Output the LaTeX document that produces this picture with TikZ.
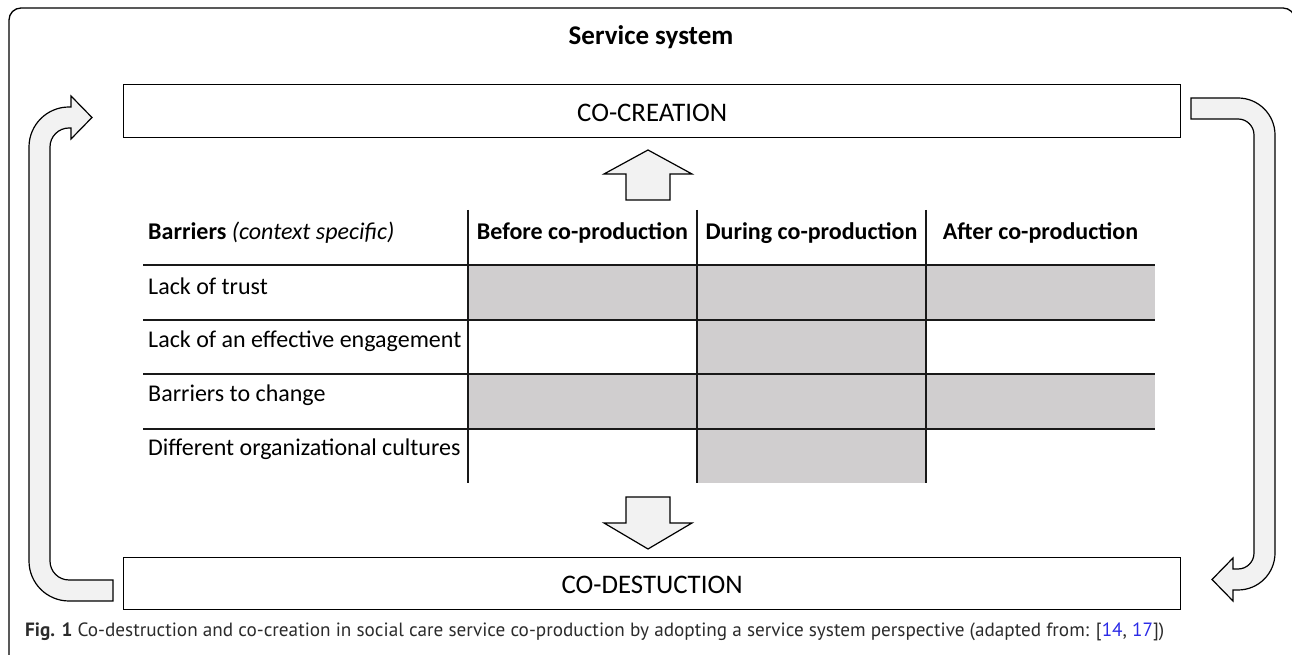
\documentclass[tikz,border=0pt]{standalone}
\usepackage{fontspec}
\setmainfont{Carlito}
\newfontfamily\capfont{PT Sans}
\definecolor{cellgray}{HTML}{D0CECF}
\definecolor{arrowfill}{HTML}{F2F2F2}
\definecolor{captext}{HTML}{2B2B2B}
\definecolor{reflink}{HTML}{2A2AE6}
\tikzset{
  boxstyle/.style={draw=black, line width=1.3pt},
  fatarrow/.style={draw=black, fill=arrowfill, line width=1.2pt, line join=miter},
  tline/.style={draw=black!90, line width=1.5pt},
  txt/.style={inner sep=0pt, font=\fontsize{24}{28}\selectfont},
  hdr/.style={inner sep=0pt, anchor=base, font=\fontsize{24}{28}\selectfont\bfseries},
  bigtxt/.style={inner sep=0pt, font=\fontsize{26.8}{30}\selectfont},
}
\begin{document}
\begin{tikzpicture}[x=1pt,y=1pt]
\useasboundingbox (0,0) rectangle (1292,655);
\clip (0,0) rectangle (1292,655);
% frame
\draw[line width=1.3pt, rounded corners=12pt] (9,-20) rectangle (1295,647);
\node[inner sep=0pt, font=\fontsize{27}{30}\selectfont\bfseries] (title) at (651,618) {Service system};
% boxes
\node[boxstyle, minimum width=1057pt, minimum height=53pt, inner sep=0pt, anchor=south west] (cc) at (123,517) {};
\node[bigtxt] (cctext) at ([yshift=-2pt]cc.center) {CO-CREATION};
\node[boxstyle, minimum width=1057pt, minimum height=52pt, inner sep=0pt, anchor=south west] (cd) at (123,45) {};
\node[bigtxt] (cdtext) at ([yshift=-2pt]cd.center) {CO-DESTUCTION};
% gray cells
\fill[cellgray] (468,335) rectangle (1155,390);
\fill[cellgray] (697,281) rectangle (926,335);
\fill[cellgray] (468,226) rectangle (1155,281);
\fill[cellgray] (697,172) rectangle (926,226);
% table lines
\foreach \yy in {390,335,281,226} \draw[tline] (143,\yy) -- (1155,\yy);
\foreach \xx in {468,697,926} \draw[tline] (\xx,445) -- (\xx,172);
% table text
\node[txt, anchor=base west] (h0) at (148,415) {\textbf{Barriers} \textit{(context specific)}};
\node[hdr] (h1) at (582.5,415) {Before co-production};
\node[hdr] (h2) at (811.5,415) {During co-production};
\node[hdr] (h3) at (1040.5,415) {After co-production};
\node[txt, anchor=west] (r1) at (148,369) {Lack of trust};
\node[txt, anchor=west] (r2) at (148,314) {Lack of an effective engagement};
\node[txt, anchor=west] (r3) at (148,260) {Barriers to change};
\node[txt, anchor=west] (r4) at (148,206) {Different organizational cultures};
% block arrows
\draw[fatarrow] (626,455) -- (626,481) -- (604,481) -- (648,505) -- (692,481) -- (670,481) -- (670,455) -- cycle;
\draw[fatarrow] (626,158) -- (670,158) -- (670,132) -- (692,132) -- (648,106) -- (604,132) -- (626,132) -- cycle;
% left curved arrow
\draw[fatarrow] (113,75) -- (69,75) arc[start angle=270, end angle=180, radius=19]
  -- (50,508) arc[start angle=180, end angle=90, radius=19]
  -- (71,527) -- (71,516) -- (92,537.5) -- (71,559) -- (71,548) -- (69,548)
  arc[start angle=90, end angle=180, radius=40]
  -- (29,94) arc[start angle=180, end angle=270, radius=40]
  -- (113,54) -- cycle;
% right curved arrow
\draw[fatarrow] (1191,557) -- (1238,557) arc[start angle=90, end angle=0, radius=37]
  -- (1275,102) arc[start angle=0, end angle=-90, radius=37]
  -- (1233,65) -- (1233,54) -- (1212,75.5) -- (1233,97) -- (1233,86) -- (1238,86)
  arc[start angle=-90, end angle=0, radius=16]
  -- (1254,520) arc[start angle=0, end angle=90, radius=16]
  -- (1191,536) -- cycle;
% caption
\node[inner sep=0pt, anchor=west, text=captext, font=\capfont\fontsize{19.2}{22}\selectfont] (cap) at (25,23)
  {\textbf{Fig. 1} Co-destruction and co-creation in social care service co-production by adopting a service system perspective (adapted from: [\textcolor{reflink}{14}, \textcolor{reflink}{17}])};
\end{tikzpicture}
\end{document}
